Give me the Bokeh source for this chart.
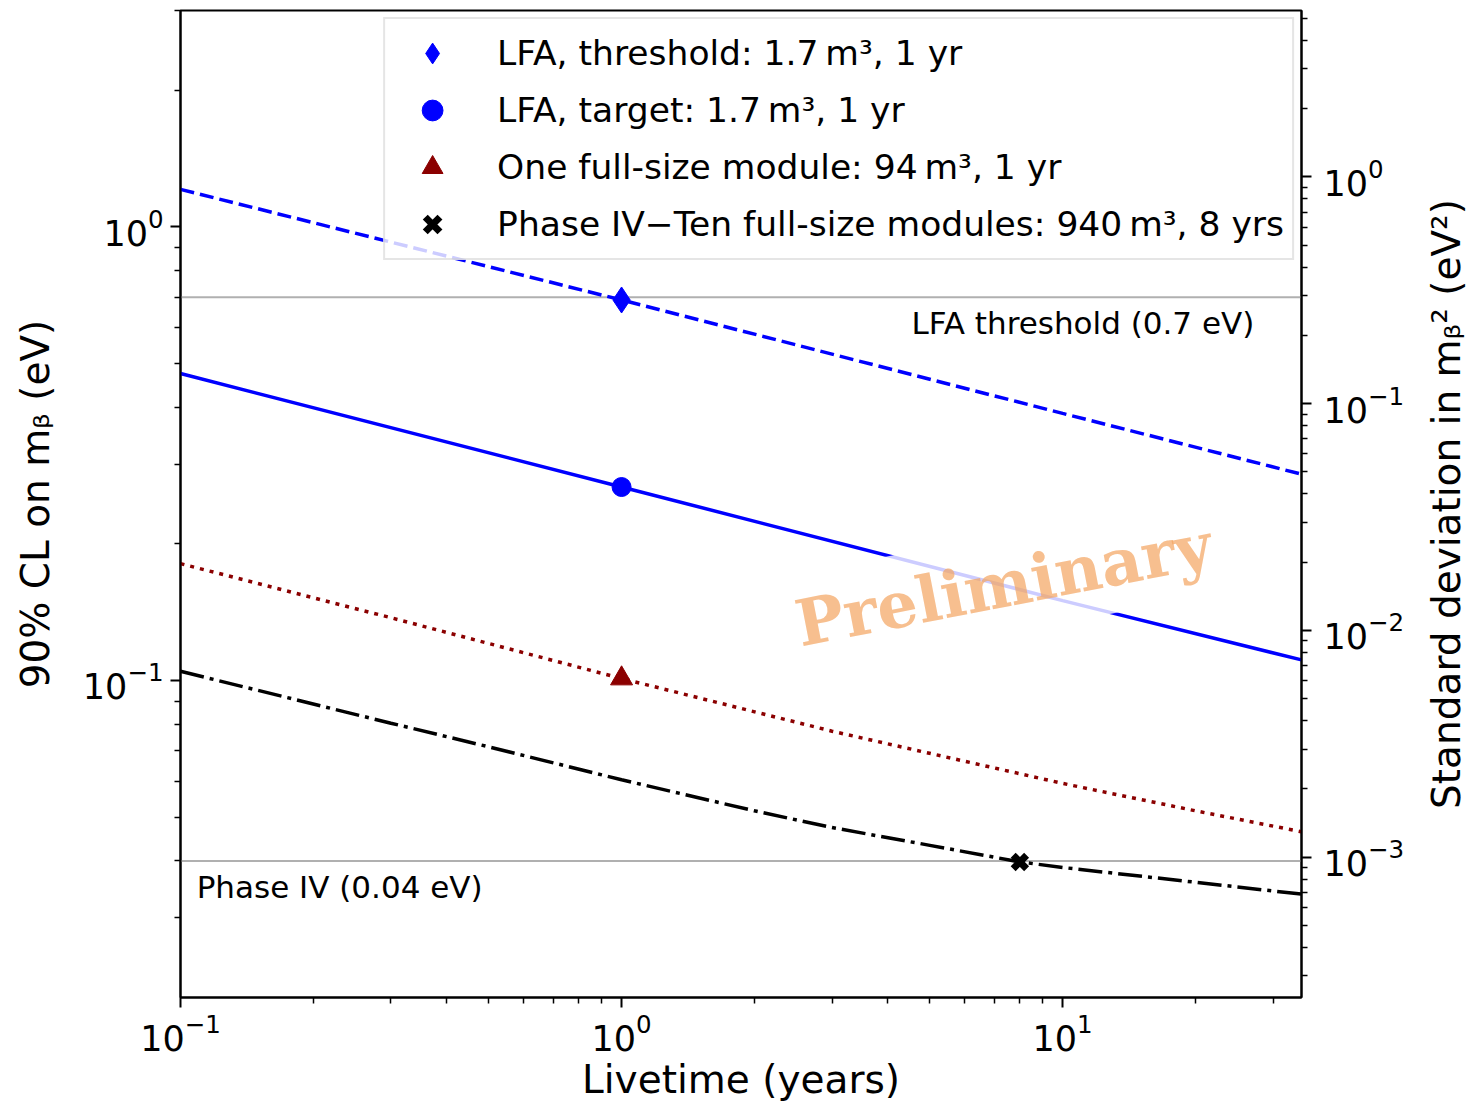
import math
from bokeh.plotting import figure
from bokeh.layouts import row
from bokeh.models import (Range1d, LogScale, LogAxis, FixedTicker, Span, Label,
                          Legend, LegendItem, LogTickFormatter)
from bokeh.core.properties import value
from bokeh.embed import file_html
from bokeh.resources import INLINE

# ---------------- data ----------------
# straight power-law lines (LFA)
lfa_t = [0.1, 1.0, 10.0, 34.8]
lfa_threshold = [1.21, 0.69, 0.388, 0.285]
lfa_target = [0.475, 0.267, 0.150, 0.111]

# one full-size module (dotted, dark red)
module_t = [0.1, 0.3, 1.0, 3.0, 10.0, 20.0, 34.8]
module_m = [0.181, 0.1375, 0.101, 0.0773, 0.0593, 0.0516, 0.0464]

# Phase IV - ten full-size modules (dash-dot, black)
phase4_t = [0.1, 0.3, 0.5, 1.0, 2.0, 3.0, 5.0, 8.0, 10.0, 20.0, 34.8]
phase4_m = [0.1048, 0.0805, 0.0714, 0.0604, 0.0516, 0.0474, 0.0433, 0.0398,
            0.0387, 0.0359, 0.0338]

# highlighted scenario points
point_t = [1.0, 1.0, 1.0, 8.0]
point_m = [0.69, 0.267, 0.101, 0.0398]
point_labels = [
    "LFA, threshold: 1.7\u2009m\u00b3, 1 yr",
    "LFA, target: 1.7\u2009m\u00b3, 1 yr",
    "One full-size module: 94\u2009m\u00b3, 1 yr",
    "Phase IV\u2212Ten full-size modules: 940\u2009m\u00b3, 8 yrs",
]
point_markers = ["diamond", "circle", "triangle", "x"]
point_colors = ["#0000ff", "#0000ff", "#8b0000", "#000000"]
point_sizes = [26, 19, 22, 19]

# reference levels
levels = [0.7, 0.04]
level_labels = ["LFA threshold (0.7 eV)", "Phase IV (0.04 eV)"]

# axes
x_range = (0.1, 34.8)
y_range = (0.02, 3.0)
sd_factor = 0.6017          # sigma(m^2) = factor * (90% CL m)^2
x_title = "Livetime (years)"
y_title = "90% CL on m\u1d66 (eV)"
r_title = "Standard deviation in m\u1d66\u00b2 (eV\u00b2)"
x_major = [0.1, 1.0, 10.0]
x_minor = [0.2, 0.3, 0.4, 0.5, 0.6, 0.7, 0.8, 0.9,
           2, 3, 4, 5, 6, 7, 8, 9, 20, 30]
y_major = [0.1, 1.0]
y_minor = [0.03, 0.04, 0.05, 0.06, 0.07, 0.08, 0.09,
           0.2, 0.3, 0.4, 0.5, 0.6, 0.7, 0.8, 0.9, 2, 3]
r_major = [0.001, 0.01, 0.1, 1.0]
r_minor = [0.0003, 0.0004, 0.0005, 0.0006, 0.0007, 0.0008, 0.0009,
           0.002, 0.003, 0.004, 0.005, 0.006, 0.007, 0.008, 0.009,
           0.02, 0.03, 0.04, 0.05, 0.06, 0.07, 0.08, 0.09,
           0.2, 0.3, 0.4, 0.5, 0.6, 0.7, 0.8, 0.9, 2, 3, 4, 5]

FONT = "DejaVu Sans"

# ---------------- main figure ----------------
p = figure(x_axis_type="log", y_axis_type="log",
           x_range=Range1d(*x_range), y_range=Range1d(*y_range),
           output_backend="svg", toolbar_location=None,
           frame_width=1121, frame_height=987,
           min_border_left=180, min_border_right=115,
           min_border_top=10, min_border_bottom=90)
p.grid.visible = False
p.background_fill_color = "white"
p.border_fill_color = "white"
p.outline_line_color = "black"
p.outline_line_width = 2
p.outline_line_alpha = 1.0

p.extra_y_ranges = {"sd": Range1d(y_range[0] ** 2 * sd_factor, y_range[1] ** 2 * sd_factor)}
p.extra_y_scales = {"sd": LogScale()}
raxis = LogAxis(y_range_name="sd")
p.add_layout(raxis, "right")


def style_axis(ax, major, minor, label, lab_standoff, tick_standoff):
    ax.ticker = FixedTicker(ticks=major, minor_ticks=minor)
    ax.formatter = LogTickFormatter()
    ax.axis_label = label
    ax.axis_label_text_font = FONT
    ax.axis_label_text_font_style = "normal"
    ax.axis_label_text_font_size = "39px"
    ax.axis_label_text_color = "black"
    ax.axis_label_standoff = lab_standoff
    ax.major_label_text_font = FONT
    ax.major_label_text_font_size = "35px"
    ax.major_label_text_color = "black"
    ax.major_label_standoff = tick_standoff
    ax.axis_line_color = "black"
    ax.axis_line_width = 2
    ax.major_tick_line_color = "black"
    ax.major_tick_line_width = 2
    ax.major_tick_out = 10
    ax.major_tick_in = 0
    ax.minor_tick_line_color = "black"
    ax.minor_tick_line_width = 1.5
    ax.minor_tick_out = 6
    ax.minor_tick_in = 0


style_axis(p.xaxis[0], x_major, x_minor, x_title, 3, 5)
style_axis(p.yaxis[0], y_major, y_minor, y_title, 22, 7)
style_axis(raxis, r_major, r_minor, None, 0, 12)

# ---------------- reference levels ----------------
for lv in levels:
    p.add_layout(Span(location=lv, dimension="width", line_color="#b0b0b0",
                      line_width=2, level="underlay"))

# ---------------- curves ----------------
p.line(lfa_t, lfa_threshold, line_color="#0000ff", line_width=3.5, line_dash="14 6")
p.line(lfa_t, lfa_target, line_color="#0000ff", line_width=3.5)
p.line(module_t, module_m, line_color="#8b0000", line_width=3.5, line_dash="4 6")
p.line(phase4_t, phase4_m, line_color="black", line_width=3.5, line_dash="24 6 4 6")

# ---------------- markers + legend ----------------
items = []
for t, m, lab, mk, c, s in zip(point_t, point_m, point_labels, point_markers,
                                point_colors, point_sizes):
    if mk == "x":
        r = p.scatter([t], [m], marker=mk, size=s, line_color=c, line_width=7)
    else:
        r = p.scatter([t], [m], marker=mk, size=s, fill_color=c, line_color=c)
    items.append(LegendItem(label=lab, renderers=[r]))

legend = Legend(items=items, location="top_right", margin=7,
                padding=8, spacing=5, glyph_width=78, glyph_height=52,
                label_height=52, label_standoff=26,
                label_text_font=FONT, label_text_font_size="34.5px",
                label_text_color="black",
                border_line_color="#cccccc", border_line_width=2,
                background_fill_color="white", background_fill_alpha=0.8)
p.add_layout(legend)

# ---------------- annotations ----------------
p.add_layout(Label(x=27.2, y=levels[0], y_offset=-26, text=level_labels[0],
                   text_align="right", text_baseline="alphabetic",
                   text_font=FONT, text_font_size="31px", text_color="black"))
p.add_layout(Label(x=0.1088, y=levels[1], y_offset=-26, text=level_labels[1],
                   text_align="left", text_baseline="alphabetic",
                   text_font=FONT, text_font_size="31px", text_color="black"))

p.add_layout(Label(x=7.35, y=0.163, text="Preliminary", angle=11, angle_units="deg",
                   text_align="center", text_baseline="middle",
                   text_font="DejaVu Serif", text_font_style="bold",
                   text_font_size="64px", text_color="#F4A460", text_alpha=0.7,
                   background_fill_color="white", background_fill_alpha=0.8,
                   padding=12))

# ---------------- right-hand axis title (reads bottom-to-top) ----------------
q = figure(x_range=Range1d(-1, 1), y_range=Range1d(-1, 1),
           output_backend="svg", toolbar_location=None,
           x_axis_location=None, y_axis_location=None,
           frame_width=60, frame_height=987,
           min_border_left=0, min_border_right=0,
           min_border_top=10, min_border_bottom=90)
q.grid.visible = False
q.outline_line_color = None
q.background_fill_color = "white"
q.border_fill_color = "white"
q.text(x=[0], y=[0], text=[r_title], angle=math.pi / 2,
       text_align="center", text_baseline="middle",
       text_font=value(FONT), text_font_size="39px", text_color="black")

open("out.html", "w").write(file_html(row(p, q), INLINE))
